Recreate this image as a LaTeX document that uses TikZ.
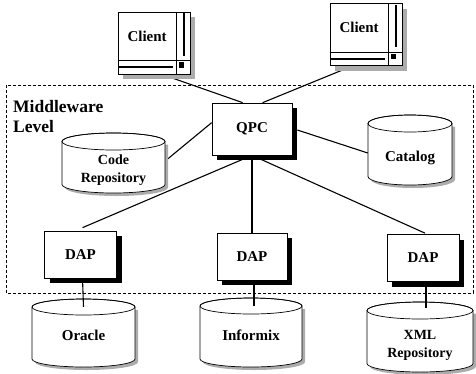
\documentclass[tikz,border=0pt]{standalone}
\usepackage{fontspec}
\setmainfont{Liberation Serif}
\usetikzlibrary{shadows,calc,backgrounds}
\newcommand\windeco[1]{%
  \draw[line width=0.7pt] ($(#1.north west)+(58.7,0)$) -- ($(#1.south west)+(58.7,0)$);
  \draw[line width=0.7pt] ($(#1.north west)+(0,49)$) -- ($(#1.north east)+(0,49)$);
  \draw[line width=2pt] ($(#1.north west)+(66,1.5)$) -- ($(#1.north west)+(66,44)$);
  \draw[line width=2pt] ($(#1.north west)+(1,55.5)$) -- ($(#1.north west)+(55,55.5)$);
  \fill ($(#1.north west)+(61,50.5)$) rectangle ($(#1.north west)+(66.5,56)$);
}
% #1 name, #2 cx, #3 cy, #4 w, #5 h, #6 ry, #7 label options, #8 text
\newcommand\dbnode[8]{%
  \fill[gray!65] ({#2-#4/2+3},{#3-#5/2+#6+3}) -- ({#2-#4/2+3},{#3+#5/2-#6+3})
     arc[start angle=180,end angle=360,x radius={#4/2*1pt},y radius={#6*1pt}]
     -- ({#2+#4/2+3},{#3-#5/2+#6+3}) -- cycle;
  \filldraw[fill=white, line width=0.7pt] ({#2-#4/2},{#3-#5/2+#6}) -- ({#2-#4/2},{#3+#5/2-#6})
     arc[start angle=180,end angle=360,x radius={#4/2*1pt},y radius={#6*1pt}]
     -- ({#2+#4/2},{#3-#5/2+#6})
     arc[start angle=0,end angle=180,x radius={#4/2*1pt},y radius={#6*1pt}] -- cycle;
  \draw[line width=0.7pt] (#2,{#3-#5/2+#6}) ellipse[x radius={#4/2*1pt},y radius={#6*1pt}];
  \node[minimum width=#4pt, minimum height=#5pt, inner sep=0pt, label={[dblbl,#7]center:{#8}}] (#1) at (#2,#3) {};
}
\begin{document}
\begin{tikzpicture}[x=1pt,y=-1pt,
  lbl/.style={font=\fontsize{15}{17}\selectfont\bfseries},
  win/.style={draw, line width=0.7pt, fill=white, minimum width=72pt, minimum height=62pt, inner sep=0pt,
    drop shadow={shadow xshift=5pt, shadow yshift=-5pt, fill=gray!65, opacity=1}},
  box/.style={draw, line width=0.7pt, fill=white, minimum width=72pt, minimum height=47pt, inner sep=0pt, lbl,
    drop shadow={shadow xshift=5pt, shadow yshift=-5pt, fill=black, opacity=1}},
  dblbl/.style={font=\fontsize{15}{17}\selectfont\bfseries, align=center, inner sep=0pt},
  replbl/.style={font=\fontsize{14}{18}\selectfont\bfseries},
  link/.style={line width=1.1pt},
  frame/.style={dash pattern=on 3pt off 2pt, line width=0.6pt}
]
\useasboundingbox (0,0) rectangle (476,373);
\draw[frame] (6,85) rectangle (473,293);
\node[anchor=north west, align=left, inner sep=0pt, font=\fontsize{17.5}{20}\selectfont\bfseries] (mid) at (13,100) {Middleware\\Level};

% clients
\node[win] (c1) at (154,43) {};
\windeco{c1}
\node[lbl] (c1t) at ($(c1.north west)+(29.5,24.5)$) {Client};
\node[win] (c2) at (366,34.5) {};
\windeco{c2}
\node[lbl] (c2t) at ($(c2.north west)+(29.5,24.5)$) {Client};

% middleware
\node[box, minimum width=80pt, minimum height=52pt] (qpc) at (252,129) {QPC};
\dbnode{code}{113.5}{163}{103}{60}{8.5}{replbl, yshift=-7pt}{Code\\Repository}
\dbnode{cat}{410}{150}{84}{70}{8.5}{yshift=-8pt}{Catalog}

\node[box] (dap1) at (80.5,254.5) {DAP};
\node[box, minimum width=70pt] (dap2) at (252,256.5) {DAP};
\node[box] (dap3) at (423,258) {DAP};

% sources
\dbnode{ora}{83.5}{333}{103}{68}{8}{yshift=-2pt}{Oracle}
\dbnode{inf}{251}{332.5}{102}{69}{8}{yshift=-2.5pt}{Informix}
\dbnode{xml}{420}{337}{106}{70}{8.5}{replbl, yshift=-8pt}{XML\\Repository}

\begin{scope}[on background layer]
\draw[link] ($(c1.south west)+(47,1)$) -- ($(qpc.north west)+(31,0)$);
\draw[link] ($(c2.south west)+(23,0)$) -- ($(qpc.north west)+(51,0)$);
\draw[link] ($(qpc.north west)+(0,20)$) -- ($(code.east)+(0,-2)$);
\draw[link] ($(qpc.east)+(5,1)$) -- ($(cat.west)+(0,3)$);
\draw[link] (qpc.south) -- ($(dap1.north)+(2,-3)$);
\draw[link] (qpc.south) -- (dap2.north);
\draw[link] (qpc.south) -- ($(dap3.north)+(2,-1)$);
\end{scope}
\draw[link] ($(dap1.south)+(2,0)$) -- ($(ora.north)+(0,8)$);
\draw[link] ($(dap2.south)+(2,0)$) -- ($(inf.north)+(3,8)$);
\draw[link] ($(dap3.south)+(3,0)$) -- ($(xml.north)+(6,6)$);
\end{tikzpicture}
\end{document}
